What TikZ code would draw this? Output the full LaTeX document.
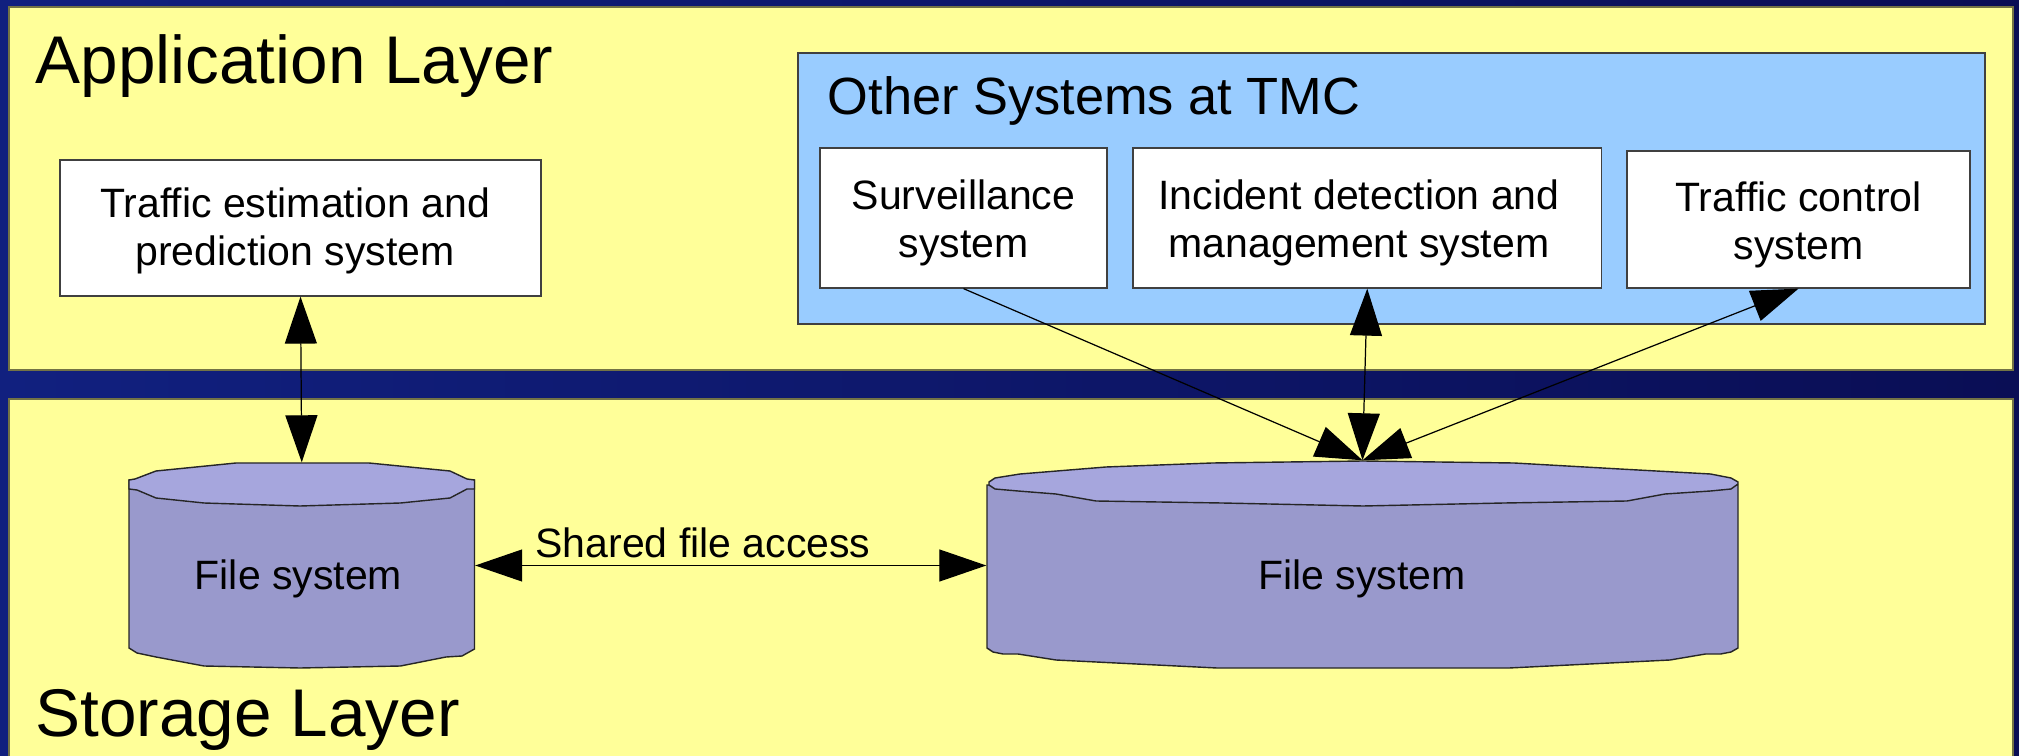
\documentclass[tikz,border=0pt]{standalone}
\usepackage{fontspec}
\setmainfont{Liberation Sans}
\usetikzlibrary{arrows.meta}

\definecolor{panelyellow}{HTML}{FFFF99}
\definecolor{otherblue}{HTML}{99CCFF}
\definecolor{drumside}{HTML}{9999CC}
\definecolor{drumtop}{HTML}{A6A6DD}
\definecolor{bandleft}{HTML}{11207F}
\definecolor{bandright}{HTML}{0A0E55}

\tikzset{
  layerpanel/.style={draw=black!55!panelyellow, line width=0.4pt, fill=panelyellow},
  layertitle/.style={anchor=base west, inner sep=0pt, font=\fontsize{19.2}{23}\selectfont},
  sysbox/.style={draw=black!75, line width=0.35pt, fill=white, inner sep=0pt},
  boxtext/.style={align=center, inner sep=0pt, font=\fontsize{11.67}{13.8}\selectfont},
  drumnode/.style={inner sep=0pt, minimum height=20.5mm},
  drumedge/.style={draw=black!85, line width=0.4pt},
  link/.style={line width=0.35pt, black},
  bothtips/.style={{Triangle[length=4.7mm,width=3.2mm]}-{Triangle[length=4.7mm,width=3.2mm]}},
  onetip/.style={-{Triangle[length=4.7mm,width=3.2mm]}}
}

\begin{document}
\begin{tikzpicture}[x=0.1mm,y=-0.1mm]
    \useasboundingbox (0,0) rectangle (2019,756);
    \shade[left color=bandleft, right color=bandright] (0,0) rectangle (2019,756);

    % the two layers
    \filldraw[layerpanel] (9,7) rectangle (2013,370);
    \filldraw[layerpanel] (9,399) rectangle (2013,760);
    \node[layertitle] (apptitle) at (35,84) {Application Layer};
    \node[layertitle] (storetitle) at (35,736) {Storage Layer};

    \filldraw[draw=black!75, line width=0.35pt, fill=otherblue] (798,53) rectangle (1985,324);
    \node[anchor=base west, inner sep=0pt, font=\fontsize{14.9}{18}\selectfont] (othertitle) at (827,115) {Other Systems at TMC};

    % boxes
    \node[sysbox, minimum width=48.1mm, minimum height=13.6mm] (estim) at (300.5,228) {};
    \node[boxtext] (estimtext) at (295,231) {Traffic estimation and\\prediction system};
    \node[sysbox, minimum width=28.7mm, minimum height=14mm] (surv) at (963.5,218) {};
    \node[boxtext] (survtext) at (963.5,223) {Surveillance\\system};
    \node[sysbox, minimum width=46.85mm, minimum height=14mm] (incid) at (1367.25,218) {};
    \node[boxtext] (incidtext) at (1359,223) {Incident detection and\\management system};
    \node[sysbox, minimum width=34.3mm, minimum height=13.7mm] (tctrl) at (1798.5,219.5) {};
    \node[boxtext] (tctrltext) at (1798.5,225) {Traffic control\\system};

    % small drum
    \node[drumnode, minimum width=34.55mm] (fsA) at (301.75,565.5) {};
    \filldraw[drumedge, fill=drumside] (129,480) -- (129,648) -- (137,653) -- (156,657) -- (204,666) -- (300,668) -- (400.5,666) -- (446,657) -- (462,656) -- (474.5,649) -- (474.5,480) -- cycle;
    \filldraw[drumedge, fill=drumtop] (129,480) -- (135,479) -- (156,471) -- (236,463) -- (369,463) -- (450,471) -- (467,479) -- (474.5,480) -- (474.5,489) -- (467,489) -- (450,498) -- (400.5,503) -- (300,506) -- (204,503) -- (156,498) -- (137,490) -- (129,489) -- cycle;
    \node[boxtext] (fsAtext) at (298.5,579) {File system};

    % big drum
    \node[drumnode, minimum width=75.1mm, minimum height=20.7mm] (fsB) at (1362.5,564.5) {};
    \filldraw[drumedge, fill=drumside] (987,485) -- (987,648) -- (993,652) -- (1003,654) -- (1018,654) -- (1056,660) -- (1217,668) -- (1509,668) -- (1670,660) -- (1705.5,654) -- (1720.6,654) -- (1731,652) -- (1738,648) -- (1738,485) -- cycle;
    \filldraw[drumedge, fill=drumtop] (989,482) -- (995,478) -- (1020,474) -- (1106,467) -- (1212,463) -- (1363,461) -- (1514,463) -- (1620,469) -- (1710.5,474) -- (1731,478) -- (1738,482) -- (1738,484) -- (1731,489) -- (1710.5,491) -- (1665,494) -- (1627,501) -- (1504,503) -- (1363,506) -- (1222,503) -- (1096,501) -- (1056,494) -- (1018,491) -- (995,489) -- (989,485) -- cycle;
    \node[boxtext] (fsBtext) at (1362,579) {File system};

    % connectors
    \draw[link, bothtips] (estim.south) -- (fsA.north);
    \draw[link, onetip] (surv.south) -- (fsB.north);
    \draw[link, bothtips] (incid.south) -- (fsB.north);
    \draw[link, bothtips] (tctrl.south) -- (fsB.north);
    \draw[link, bothtips] (fsA.east) -- (fsA.east -| fsB.west);
    \node[anchor=base, inner sep=0pt, font=\fontsize{11.67}{13.8}\selectfont] (sharedlbl) at (703,557) {Shared file access};
\end{tikzpicture}
\end{document}
